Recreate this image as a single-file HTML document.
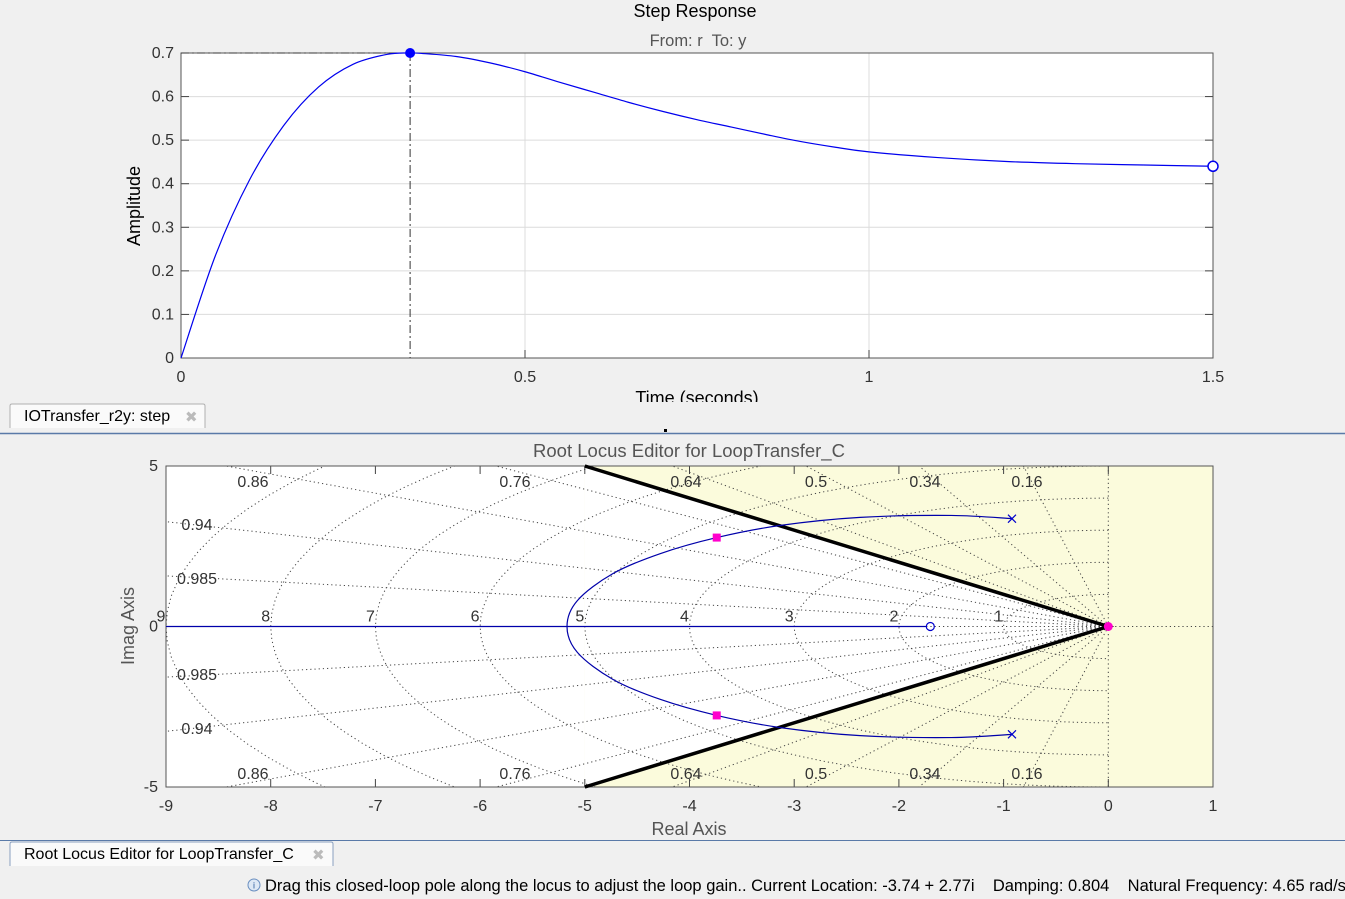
<!DOCTYPE html>
<html><head><meta charset="utf-8"><style>
html,body{margin:0;width:1345px;height:899px;background:#f0f0f0;overflow:hidden;font-family:"Liberation Sans",sans-serif}
svg{position:absolute;left:0;top:0;display:block}
</style></head><body>
<svg id="s" width="1345" height="899" xmlns="http://www.w3.org/2000/svg" font-family="Liberation Sans, sans-serif">
<g id="top"></g>
<g id="bot"></g>
<g>
<rect x="0" y="402" width="1345" height="31" fill="#f0f0f0"/>
<path d="M10,428 V406 Q10,404 12,404 H203 Q205,404 205,406 V428" fill="#fafafa" stroke="#b0b0b0"/>
<text x="24" y="421" font-size="16" fill="#000">IOTransfer_r2y: step</text>
<text x="185" y="422" font-size="15" fill="#bbb">✖</text>
<line x1="0" y1="433.5" x2="1345" y2="433.5" stroke="#5a7aa8" stroke-width="1.5"/>
<rect x="664" y="429" width="3" height="3" fill="#000"/>
</g>
<g>
<rect x="0" y="840" width="1345" height="28" fill="#f0f0f0"/>
<line x1="0" y1="840.5" x2="1345" y2="840.5" stroke="#5a7aa8"/>
<path d="M10,866 V844 Q10,842 12,842 H331 Q333,842 333,844 V866" fill="#fafafa" stroke="#8aa0c0"/>
<text x="24" y="859" font-size="16" fill="#000">Root Locus Editor for LoopTransfer_C</text>
<text x="312" y="860" font-size="15" fill="#bbb">✖</text>
</g>
<g>
<circle cx="254" cy="885" r="6" fill="#dde8f5" stroke="#6a8fc0"/>
<text x="254" y="888.5" font-size="9" fill="#2a5a9a" text-anchor="middle">i</text>
<text x="265" y="891" font-size="16.5" fill="#000">Drag this closed-loop pole along the locus to adjust the loop gain.. Current Location: -3.74 + 2.77i&#160;&#160;&#160;&#160;Damping: 0.804&#160;&#160;&#160;&#160;Natural Frequency: 4.65 rad/s</text>
</g>
</svg>
<script>
// ---- Step response data ----
const stepTime = [0,0.05,0.1,0.15,0.2,0.25,0.3,0.333,0.35,0.4,0.45,0.5,0.55,0.6,0.65,0.7,0.75,0.8,0.85,0.9,0.95,1.0,1.1,1.2,1.3,1.4,1.5];
const stepAmp  = [0,0.235,0.41,0.535,0.622,0.674,0.697,0.70,0.699,0.692,0.677,0.657,0.633,0.61,0.587,0.566,0.547,0.53,0.513,0.497,0.484,0.473,0.460,0.451,0.446,0.443,0.44];
const stepYTicks = [0,0.1,0.2,0.3,0.4,0.5,0.6,0.7];
const stepXTicks = [0,0.5,1,1.5];
const peakTime = [0.333];
const peakAmp = [0.70];
// ---- Root locus data ----
const locusUpperRe = [-0.92,-1.5,-2.37,-3.13,-3.74,-4.28,-4.73,-5.07,-5.17];
const locusUpperIm = [3.36,3.46,3.40,3.15,2.77,2.27,1.65,0.81,0];
const olPolesRe = [-0.92,-0.92];
const olPolesIm = [3.36,-3.36];
const olZerosRe = [-1.7];
const clPolesRe = [-3.74,-3.74];
const clPolesIm = [2.77,-2.77];
const dampingVals = [0.16,0.34,0.5,0.64,0.76,0.86,0.94,0.985];
const wnVals = [1,2,3,4,5,6,7,8,9];
const rlXTicks = [-9,-8,-7,-6,-5,-4,-3,-2,-1,0,1];
const rlYTicks = [5,0,-5];
const constraintRe = [-5,0,-5];
const constraintIm = [5,0,-5];

const NS="http://www.w3.org/2000/svg";
function mk(p,tag,at,txt){const e=document.createElementNS(NS,tag);for(const k in at)e.setAttribute(k,at[k]);if(txt!==undefined)e.textContent=txt;p.appendChild(e);return e;}

// ===== Top plot =====
const T=document.getElementById('top');
const L1=181,R1=1213,T1=53,B1=358;
const sx=t=>L1+t/1.5*(R1-L1), sy=a=>B1-a/0.7*(B1-T1);
let e=mk(T,'rect',{x:L1,y:T1,width:R1-L1,height:B1-T1,fill:'#fff'});


stepYTicks.forEach(v=>{
  if(v>0&&v<0.7)mk(T,'line',{x1:L1,x2:R1,y1:sy(v),y2:sy(v),stroke:'#dcdcdc'});
  mk(T,'line',{x1:L1,x2:L1+8,y1:sy(v),y2:sy(v),stroke:'#444'});
  mk(T,'line',{x1:R1-8,x2:R1,y1:sy(v),y2:sy(v),stroke:'#444'});
  e=mk(T,'text',{x:L1-7,y:sy(v)+5,'font-size':16,fill:'#333','text-anchor':'end'},String(v));
  
  
});
stepXTicks.forEach(v=>{
  if(v>0&&v<1.5)mk(T,'line',{x1:sx(v),x2:sx(v),y1:T1,y2:B1,stroke:'#dcdcdc'});
  mk(T,'line',{x1:sx(v),x2:sx(v),y1:B1-8,y2:B1,stroke:'#444'});
  e=mk(T,'text',{x:sx(v),y:382,'font-size':16,fill:'#333','text-anchor':'middle'},String(v));
  
  
});
mk(T,'rect',{x:L1,y:T1,width:R1-L1,height:B1-T1,fill:'none',stroke:'#555'});
mk(T,'line',{x1:L1,x2:sx(peakTime[0]),y1:sy(peakAmp[0]),y2:sy(peakAmp[0]),stroke:'#333','stroke-dasharray':'8,3,2,3'});
mk(T,'line',{x1:sx(peakTime[0]),x2:sx(peakTime[0]),y1:sy(peakAmp[0]),y2:B1,stroke:'#333','stroke-dasharray':'8,3,2,3'});
function smooth(xs,ys){let pts=xs.map((x,i)=>[x,ys[i]]);let d='M'+pts[0][0]+','+pts[0][1];
 for(let i=0;i<pts.length-1;i++){const p0=pts[Math.max(0,i-1)],p1=pts[i],p2=pts[i+1],p3=pts[Math.min(pts.length-1,i+2)];
 d+=' C'+(p1[0]+(p2[0]-p0[0])/6)+','+(p1[1]+(p2[1]-p0[1])/6)+' '+(p2[0]-(p3[0]-p1[0])/6)+','+(p2[1]-(p3[1]-p1[1])/6)+' '+p2[0]+','+p2[1];}return d;}
e=mk(T,'path',{d:smooth(stepTime.map(sx),stepAmp.map(sy)),fill:'none',stroke:'#0000ee','stroke-width':1.2});


e=mk(T,'circle',{cx:sx(peakTime[0]),cy:sy(peakAmp[0]),r:5,fill:'#0000ff'});


const n=stepTime.length-1;
e=mk(T,'circle',{cx:sx(stepTime[n]),cy:sy(stepAmp[n]),r:5,fill:'#fff',stroke:'#0000ee','stroke-width':1.5});


e=mk(T,'text',{x:695,y:17,'font-size':18,fill:'#000','text-anchor':'middle'},'Step Response');


e=mk(T,'text',{x:698,y:46,'font-size':16.5,fill:'#555','text-anchor':'middle',style:'white-space:pre'},'From: r  To: y');


e=mk(T,'text',{x:140,y:206,'font-size':18,fill:'#000','text-anchor':'middle',transform:'rotate(-90 140 206)'},'Amplitude');


e=mk(T,'text',{x:697,y:404,'font-size':18,fill:'#000','text-anchor':'middle'},'Time (seconds)');



// ===== Bottom plot =====
const B=document.getElementById('bot');
const L2=166,R2=1213,T2=466,B2=787;
const rx=r=>L2+(r+9)/10*(R2-L2), iy=i=>T2+(5-i)/10*(B2-T2);
e=mk(B,'rect',{x:L2,y:T2,width:R2-L2,height:B2-T2,fill:'#fff'});


e=mk(B,'rect',{x:rx(-5),y:T2,width:R2-rx(-5),height:B2-T2,fill:'#fbfbdc'});


mk(B,'polygon',{points:constraintRe.map((r,i)=>rx(r)+','+iy(constraintIm[i])).join(' '),fill:'#fff'});
const clip=mk(B,'clipPath',{id:'cp'});mk(clip,'rect',{x:L2,y:T2,width:R2-L2,height:B2-T2});
const G=mk(B,'g',{'clip-path':'url(#cp)'});
const dot={fill:'none',stroke:'#444','stroke-width':1,'stroke-dasharray':'1.2,3'};
wnVals.forEach(w=>{let d='';for(let k=0;k<=60;k++){const a=Math.PI/2+Math.PI*k/60;d+=(k?'L':'M')+rx(w*Math.cos(a))+','+iy(w*Math.sin(a));}
  mk(G,'path',Object.assign({d},dot));});
dampingVals.forEach(z=>{const s=Math.sqrt(1-z*z)/z,R=12;[1,-1].forEach(sg=>mk(G,'line',Object.assign({x1:rx(0),y1:iy(0),x2:rx(-R),y2:iy(sg*R*s)},dot)));});
mk(G,'line',Object.assign({x1:L2,x2:R2,y1:iy(0),y2:iy(0)},dot));
mk(G,'line',Object.assign({x1:rx(0),x2:rx(0),y1:T2,y2:B2},dot));
rlXTicks.forEach(v=>{mk(B,'line',{x1:rx(v),x2:rx(v),y1:B2-8,y2:B2,stroke:'#444'});mk(B,'line',{x1:rx(v),x2:rx(v),y1:T2,y2:T2+8,stroke:'#444'});
  e=mk(B,'text',{x:rx(v),y:811,'font-size':16,fill:'#333','text-anchor':'middle'},String(v));
  
  });
rlYTicks.forEach(v=>{e=mk(B,'text',{x:L2-8,y:iy(v)+5,'font-size':16,fill:'#333','text-anchor':'end'},String(v));
  
  });
mk(B,'rect',{x:L2,y:T2,width:R2-L2,height:B2-T2,fill:'none',stroke:'#555'});
const dampLabelX = {0.16:1027,0.34:925,0.5:816,0.64:686,0.76:515,0.86:253};
const dampLabelLeftY = {0.94:524,0.985:578};
dampingVals.forEach(z=>{
  let pos=[];
  if(dampLabelX[z]!==undefined){pos=[[dampLabelX[z],487],[dampLabelX[z],779]];}
  else {const y=dampLabelLeftY[z];pos=[[197,y+6],[197,2*626-y+6]];}
  pos.forEach(p=>{e=mk(B,'text',{x:p[0],y:p[1],'font-size':16,fill:'#333','text-anchor':'middle'},String(z));
  
  });});
wnVals.forEach(w=>{e=mk(B,'text',{x:rx(-w)-5,y:iy(0)-5,'font-size':16,fill:'#333','text-anchor':'middle'},String(w));
  
  });
e=mk(B,'polyline',{points:constraintRe.map((r,i)=>rx(r)+','+iy(constraintIm[i])).join(' '),fill:'none',stroke:'#000','stroke-width':3.5});


e=mk(B,'line',{x1:L2,x2:rx(olZerosRe[0])-4,y1:iy(0),y2:iy(0),stroke:'#0000aa','stroke-width':1.2});


// complex branches drawn as one continuous curve through the break-in point
const fullRe = locusUpperRe.concat(locusUpperRe.slice(0,-1).reverse());
const fullIm = locusUpperIm.concat(locusUpperIm.slice(0,-1).reverse().map(v=>-v));
e=mk(B,'path',{d:smooth(fullRe.map(rx),fullIm.map(iy)),fill:'none',stroke:'#0000aa','stroke-width':1.2});


olPolesRe.forEach((r,i)=>{const x=rx(r),y=iy(olPolesIm[i]);
  e=mk(B,'path',{d:`M${x-4},${y-4}L${x+4},${y+4}M${x-4},${y+4}L${x+4},${y-4}`,stroke:'#0000cc','stroke-width':1.2});
  
  });
olZerosRe.forEach(r=>{e=mk(B,'circle',{cx:rx(r),cy:iy(0),r:4,fill:'none',stroke:'#0000cc','stroke-width':1.2});
  
  });
clPolesRe.forEach((r,i)=>{e=mk(B,'rect',{x:rx(r)-4,y:iy(clPolesIm[i])-4,width:8,height:8,fill:'#ff00cc'});
  
  });
e=mk(B,'circle',{cx:rx(0),cy:iy(0),r:4.5,fill:'#ff00cc'});


e=mk(B,'text',{x:689,y:457,'font-size':18.5,fill:'#555','text-anchor':'middle'},'Root Locus Editor for LoopTransfer_C');


e=mk(B,'text',{x:689,y:835,'font-size':18,fill:'#555','text-anchor':'middle'},'Real Axis');


e=mk(B,'text',{x:134,y:626,'font-size':18,fill:'#555','text-anchor':'middle',transform:'rotate(-90 134 626)'},'Imag Axis');


</script>
</body></html>
